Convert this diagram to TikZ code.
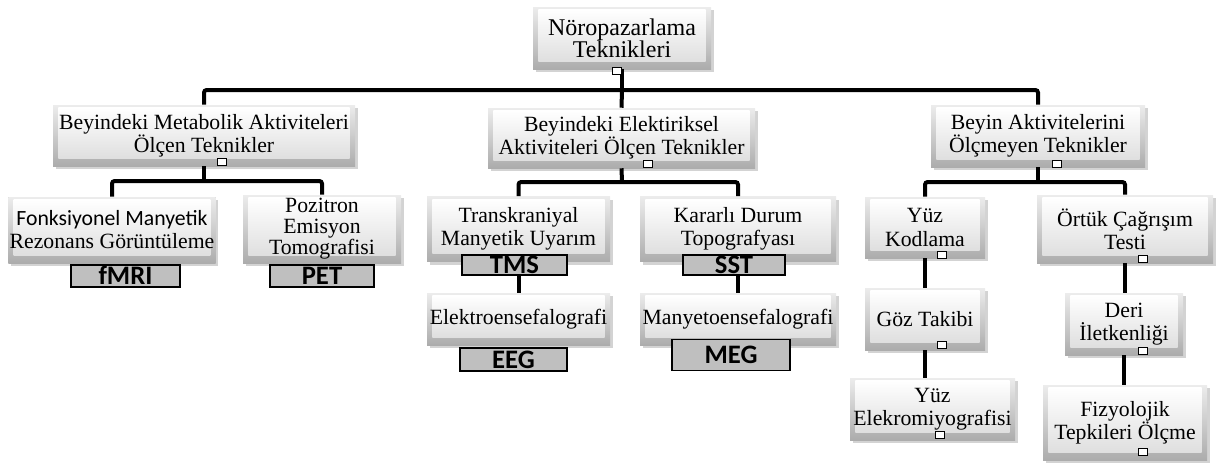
\documentclass[tikz,border=0pt]{standalone}
\usepackage{fontspec}
\setmainfont{Liberation Serif}
\newfontfamily\carl{Carlito}
\usetikzlibrary{shadows}
\tikzset{
  sz/.style 2 args={minimum width=#1*0.75pt, minimum height=#2*0.75pt},
  bx/.style={rectangle, inner sep=1pt, align=center,
    font=\fontsize{16.3}{17.3}\selectfont,
    fill=gray!35,
    drop shadow={opacity=0.35, shadow xshift=2pt, shadow yshift=-2.5pt},
    path picture={
      \shade[top color=gray!15, bottom color=gray!65]
        (path picture bounding box.south west) rectangle (path picture bounding box.north east);
      \shade[top color=white, bottom color=gray!25]
        ([xshift=4pt,yshift=-2pt]path picture bounding box.north west) rectangle
        ([xshift=-4pt,yshift=6pt]path picture bounding box.south east);
    }},
  lab/.style={rectangle, draw=black, line width=1pt, fill=black!25, inner sep=0pt,
    text height=12.9pt, text depth=0pt,
    font=\carl\bfseries\fontsize{20}{20}\selectfont},
  mk/.style={rectangle, draw=black, fill=white, line width=1pt, inner sep=0pt,
    minimum width=6.5pt, minimum height=4.8pt},
  conn/.style={draw=black, line width=3pt, rounded corners=2pt},
}
\begin{document}
\begin{tikzpicture}[x=0.75pt,y=-0.75pt]
\useasboundingbox (0,0) rectangle (1219,464);

% boxes
\node[bx, sz={178}{62}, font=\fontsize{18}{16.8}\selectfont] (root) at (622,38) {Nöropazarlama\\Teknikleri};
\node[bx, sz={302}{61}] (m1) at (204,135.5) {Beyindeki Metabolik Aktiviteleri\\Ölçen Teknikler};
\node[bx, sz={267}{60}] (m2) at (621.5,138) {Beyindeki Elektiriksel\\Aktiviteleri Ölçen Teknikler};
\node[bx, sz={214}{62}] (m3) at (1038,136) {Beyin Aktivitelerini\\Ölçmeyen Teknikler};

\node[bx, sz={204}{66}] (f1) at (112,230) {{\carl Fonksiyonel Manyetik}\\Rezonans Görüntüleme};
\node[bx, sz={158}{68}, font=\fontsize{16.3}{15.8}\selectfont] (f2) at (322,229) {Pozitron\\Emisyon\\Tomografisi};
\node[bx, sz={183}{65}] (t1) at (518.5,229) {Transkraniyal\\Manyetik Uyarım};
\node[bx, sz={196}{65}] (t2) at (738,229) {Kararlı Durum\\Topografyası};
\node[bx, sz={183}{52}] (e1) at (518.5,319) {Elektroensefalografi};
\node[bx, sz={196}{52}] (e2) at (738,319) {Manyetoensefalografi};

\node[bx, sz={120}{61}] (yk) at (925,227.5) {Yüz\\Kodlama};
\node[bx, sz={176}{68}] (ort) at (1125,229) {Örtük Çağrışım\\Testi};
\node[bx, sz={120}{62}] (gz) at (925,319) {Göz Takibi};
\node[bx, sz={165}{62}] (ye) at (932.5,409) {Yüz\\Elekromiyografisi};
\node[bx, sz={118}{62}] (deri) at (1124,324) {Deri\\İletkenliği};
\node[bx, sz={164}{75}] (fiz) at (1125,422.5) {Fizyolojik\\Tepkileri Ölçme};

% abbreviation labels
\node[lab, sz={109}{22}] (lf1) at (125.5,276) {fMRI};
\node[lab, sz={104}{22}] (lf2) at (322,276) {PET};
\node[lab, sz={105}{20}] (lt1) at (514.5,265) {TMS};
\node[lab, sz={102}{20}] (lt2) at (734,265) {SST};
\node[lab, sz={107}{23}] (le1) at (513.5,359.5) {EEG};
\node[lab, sz={118}{31}] (le2) at (731,355) {MEG};

% junctions
\coordinate (j0) at (622,90);
\coordinate (j1) at (204,181);
\coordinate (j2) at (622,182);
\coordinate (j3) at (1038,182);

% connectors
\draw[conn] (root.south) -- (j0);
\draw[conn] (m1.north) |- (j0) -| (m3.north);
\draw[conn] (j0) -- (m2.north);

\draw[conn] (m1.south) -- (j1);
\draw[conn] (f1.north) |- (j1) -| (f2.north);

\draw[conn] (m2.south) -- (j2);
\draw[conn] (t1.north) |- (j2) -| (t2.north);
\draw[conn] (t1.south |- lt1.south) -- (e1.north);
\draw[conn] (t2.south |- lt2.south) -- (e2.north);

\draw[conn] (m3.south) -- (j3);
\draw[conn] (yk.north) |- (j3) -| (ort.north);
\draw[conn] (yk.south) -- (gz.north);
\draw[conn] (gz.south) -- (gz.south |- ye.north);
\draw[conn] (ort.south) -- (ort.south |- deri.north);
\draw[conn] (deri.south) -- (deri.south |- fiz.north);

% small markers
\node[mk] (k0) at (617,71) {};
\node[mk] (k1) at (222,162) {};
\node[mk] (k2) at (648,164) {};
\node[mk] (k3) at (1057,164) {};
\node[mk] (k4) at (942,255) {};
\node[mk] (k5) at (1143,259) {};
\node[mk] (k6) at (942,345) {};
\node[mk] (k7) at (1143,351) {};
\node[mk] (k8) at (940,435) {};
\node[mk] (k9) at (1143,452) {};
\end{tikzpicture}
\end{document}
